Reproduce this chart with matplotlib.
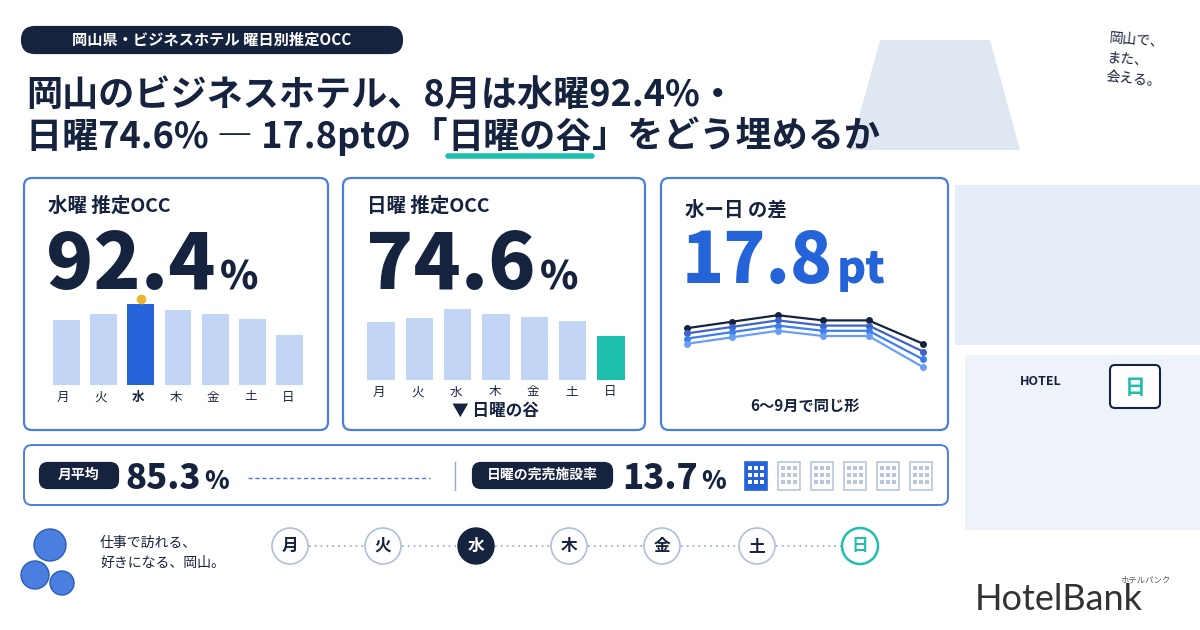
import matplotlib
matplotlib.use("Agg")
import matplotlib.pyplot as plt
from matplotlib.patches import FancyBboxPatch, Circle, Rectangle, Polygon

plt.rcParams['font.family'] = ['Noto Sans CJK JP', 'DejaVu Sans']

days = ['月', '火', '水', '木', '金', '土', '日']
occ = [83.5, 86.5, 92.4, 89.0, 87.0, 84.1, 74.6]
months = ['6月', '7月', '8月', '9月']
line_days = ['月', '火', '水', '木', '金', '日']
month_series = [
    [88.0, 90.5, 93.0, 91.0, 91.0, 82.0],
    [86.0, 88.5, 91.0, 89.0, 89.0, 79.0],
    [84.0, 86.5, 89.0, 87.0, 87.0, 76.0],
    [82.0, 84.5, 87.0, 85.0, 85.0, 73.0],
]
wed_occ, sun_occ, avg_occ, sellout = 92.4, 74.6, 85.3, 13.7

NAVY = '#16233f'; BLUE = '#2563d9'; LIGHT = '#c3d5f5'; TEAL = '#1fbfae'; BORDER = '#4a7fe0'

fig = plt.figure(figsize=(12, 6.3), dpi=100)
ax = fig.add_axes([0, 0, 1, 1])
ax.set_xlim(0, 1200); ax.set_ylim(630, 0); ax.axis('off')
fig.patch.set_facecolor('white')
renderer = fig.canvas.get_renderer()

def right_edge(t):
    bb = t.get_window_extent(renderer=renderer)
    return bb.x1  # pixels == data x (1:1 mapping)

def rbox(x0, y0, x1, y1, fc='white', ec=BORDER, lw=1.6, r=8, z=1):
    ax.add_patch(FancyBboxPatch((x0, y0), x1 - x0, y1 - y0, boxstyle=f"round,pad=0,rounding_size={r}",
                                fc=fc, ec=ec, lw=lw, zorder=z))

def inset(x0, y0, x1, y1):
    a = fig.add_axes([x0 / 1200, 1 - y1 / 630, (x1 - x0) / 1200, (y1 - y0) / 630])
    a.axis('off')
    return a

# scenery placeholders (right side)
ax.add_patch(Rectangle((955, 185), 245, 160, fc='#e6eef9', ec='none', zorder=0))
ax.add_patch(Rectangle((965, 355), 235, 175, fc='#eef3fa', ec='none', zorder=0))
ax.add_patch(Polygon([(850, 150), (1020, 150), (990, 40), (880, 40)], fc='#dfe7f3', ec='none', zorder=0))
ax.text(1020, 385, 'HOTEL', fontsize=9, fontweight='bold', color=NAVY, zorder=2)
rbox(1110, 365, 1160, 408, fc='white', ec=NAVY, lw=1.5, r=5, z=2)
ax.text(1135, 388, '日', fontsize=15, fontweight='bold', color=TEAL, ha='center', va='center', zorder=3)

# title pill
rbox(22, 27, 402, 53, fc=NAVY, ec=NAVY, r=13)
ax.text(212, 40, '岡山県・ビジネスホテル 曜日別推定OCC', color='white', fontsize=11, fontweight='bold', ha='center', va='center')

ax.text(26, 95, f'岡山のビジネスホテル、8月は水曜{wed_occ}%・', fontsize=26, fontweight='bold', color=NAVY, va='center')
t0 = ax.text(26, 137, f'日曜{sun_occ}% ― {wed_occ - sun_occ:.1f}ptの「', fontsize=26, fontweight='bold', color=NAVY, va='center')
x0 = right_edge(t0)
t1 = ax.text(x0, 137, '日曜の谷', fontsize=26, fontweight='bold', color=NAVY, va='center')
x1 = right_edge(t1)
ax.text(x1, 137, '」をどう埋めるか', fontsize=26, fontweight='bold', color=NAVY, va='center')
ax.plot([x0, x1], [156, 156], color=TEAL, lw=4, solid_capstyle='round')

# cards
rbox(24, 178, 328, 430); rbox(343, 178, 645, 430); rbox(661, 178, 948, 430)

def bignum(x, y, num, unit, color, numsize, unitsize):
    t = ax.text(x, y, num, fontsize=numsize, fontweight='heavy', color=color, va='baseline')
    xe = right_edge(t)
    ax.text(xe + 4, y, unit, fontsize=unitsize, fontweight='heavy', color=color, va='baseline')

# card 1
ax.text(48, 206, '水曜 推定OCC', fontsize=14, fontweight='bold', color=NAVY, va='center')
bignum(46, 289, f'{wed_occ}', '%', NAVY, 56, 28)
a1 = inset(48, 300, 308, 385)
cols = [BLUE if d == '水' else LIGHT for d in days]
a1.bar(range(7), occ, color=cols, width=0.72)
a1.set_ylim(45, 95); a1.set_xlim(-0.5, 6.5)
a1.plot([2], [95.5], 'o', color='#e8b530', ms=6, clip_on=False)
for i, d in enumerate(days):
    ax.text(63 + i * 37.5, 397, d, fontsize=9, color=NAVY, ha='center', va='center', fontweight='bold' if d == '水' else 'normal')

# card 2
ax.text(367, 206, '日曜 推定OCC', fontsize=14, fontweight='bold', color=NAVY, va='center')
bignum(366, 289, f'{sun_occ}', '%', NAVY, 56, 28)
a2 = inset(362, 305, 630, 380)
cols2 = [TEAL if d == '日' else LIGHT for d in days]
a2.bar(range(7), occ, color=cols2, width=0.72)
a2.set_ylim(45, 95); a2.set_xlim(-0.5, 6.5)
for i, d in enumerate(days):
    ax.text(379 + i * 38.5, 392, d, fontsize=9, color=NAVY, ha='center', va='center')
ax.text(495, 411, '▼ 日曜の谷', fontsize=12, fontweight='bold', color=NAVY, ha='center', va='center')

# card 3
ax.text(685, 210, '水ー日 の差', fontsize=14, fontweight='bold', color=NAVY, va='center')
bignum(682, 283, f'{wed_occ - sun_occ:.1f}', 'pt', BLUE, 50, 32)
a3 = inset(680, 310, 930, 375)
lcols = [NAVY, '#3f63c8', '#3b7ef0', '#6a9df5']
for s, c in zip(month_series, lcols):
    a3.plot([0, 1, 2, 3, 4, 5.2], s, '-o', color=c, lw=1.6, ms=4)
a3.set_ylim(70, 95); a3.set_xlim(-0.15, 5.35)
ax.text(805, 406, '6〜9月で同じ形', fontsize=11, fontweight='bold', color=NAVY, ha='center', va='center')

# bottom strip
rbox(24, 445, 948, 505, lw=1.4)
rbox(40, 463, 118, 488, fc=NAVY, ec=NAVY, r=8)
ax.text(79, 475, '月平均', color='white', fontsize=10, fontweight='bold', ha='center', va='center')
bignum(125, 489, f'{avg_occ}', '%', NAVY, 25, 18)
ax.plot([248, 430], [478, 478], ls=(0, (3, 2)), color=BORDER, lw=1)
ax.plot([455, 455], [462, 490], color='#9aa8c0', lw=1)
rbox(473, 463, 612, 488, fc=NAVY, ec=NAVY, r=8)
ax.text(542, 475, '日曜の完売施設率', color='white', fontsize=10, fontweight='bold', ha='center', va='center')
bignum(622, 489, f'{sellout}', '%', NAVY, 25, 18)
for i in range(6):
    x = 745 + i * 33
    c = BLUE if i == 0 else '#b8c6de'
    fc = BLUE if i == 0 else 'white'
    ax.add_patch(Rectangle((x, 462), 22, 28, fc=fc, ec=c, lw=1.2))
    for r in range(3):
        for k in range(3):
            ax.add_patch(Rectangle((x + 3 + k * 6, 466 + r * 7), 3.5, 4, fc='white' if i == 0 else c, ec='none'))

# bottom day circles
xs = [290, 383, 476, 569, 662, 757, 860]
for i in range(6):
    ax.plot([xs[i] + 19, xs[i + 1] - 19], [546, 546], ls=(0, (1, 2.5)), color='#8aa4d6', lw=1.2)
for x, d in zip(xs, days):
    if d == '水':
        ax.add_patch(Circle((x, 546), 18, fc=NAVY, ec=NAVY, zorder=3)); tc = 'white'
    elif d == '日':
        ax.add_patch(Circle((x, 546), 18, fc='white', ec=TEAL, lw=1.8, zorder=3)); tc = TEAL
    else:
        ax.add_patch(Circle((x, 546), 18, fc='white', ec='#b0bfd8', lw=1.2, zorder=3)); tc = NAVY
    ax.text(x, 546, d, fontsize=12, fontweight='bold', color=tc, ha='center', va='center', zorder=4)

# flower placeholder + handwritten text
for cx, cy, r in [(50, 545, 16), (35, 575, 14), (62, 583, 12)]:
    ax.add_patch(Circle((cx, cy), r, fc='#4a7fe0', ec='#2d5bb8', lw=1, zorder=2))
ax.text(100, 553, '仕事で訪れる、\n好きになる、岡山。', fontsize=10, color=NAVY, va='center', linespacing=1.6)
ax.text(1105, 60, '岡山で、\nまた、\n会える。', fontsize=10, color=NAVY, va='center', linespacing=1.5, rotation=-5)

ax.text(975, 600, 'HotelBank', fontsize=26, color='#333333', va='center', family=['Lato', 'DejaVu Sans'])
ax.text(1120, 580, 'ホテルバンク', fontsize=6, color='#555555', va='center')

fig.savefig('out.png', dpi=100)
